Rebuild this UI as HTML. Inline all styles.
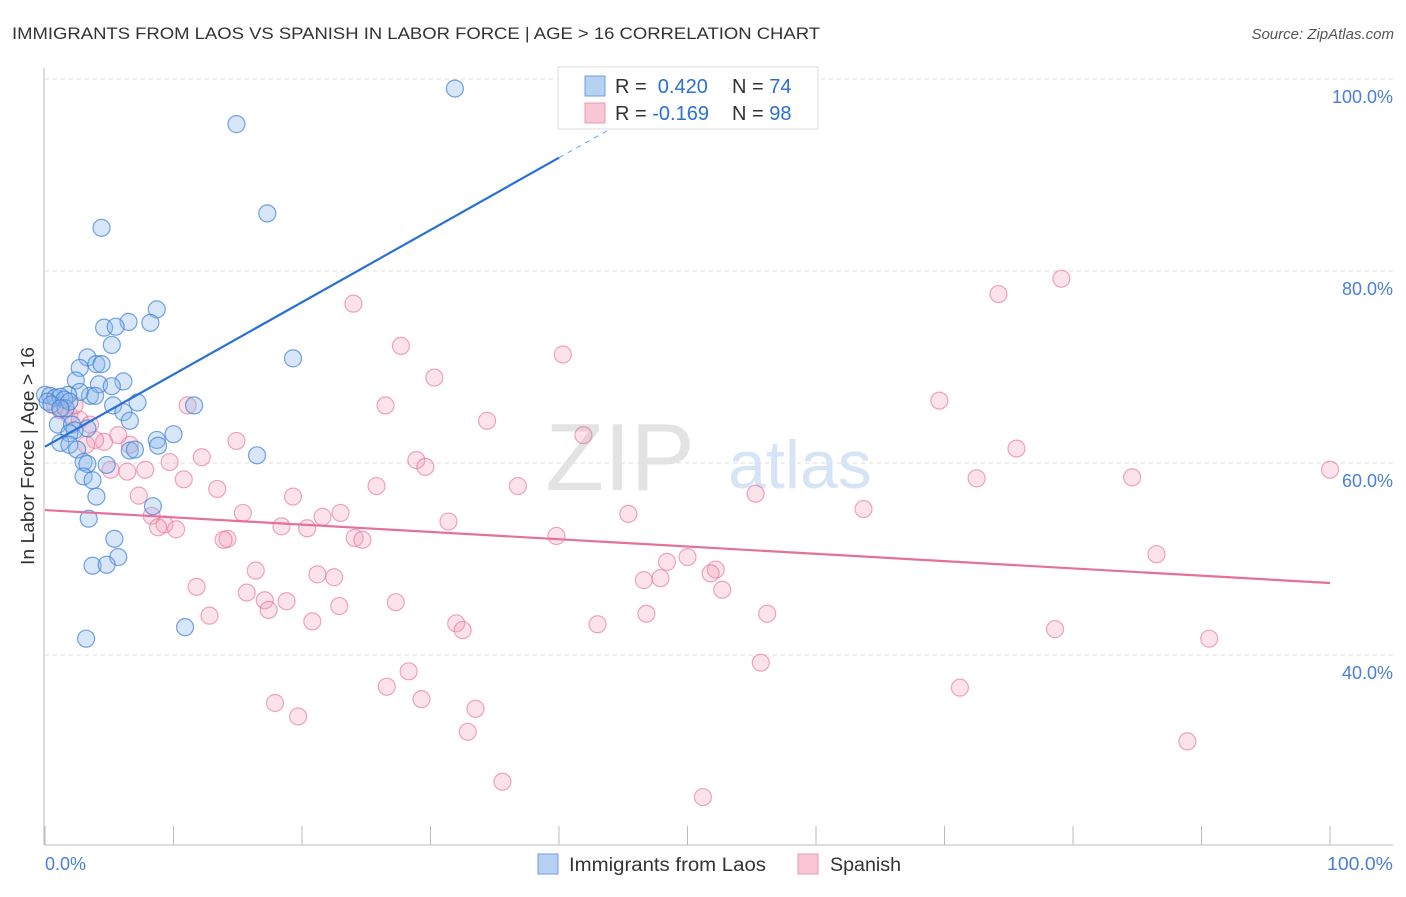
<!DOCTYPE html>
<html><head><meta charset="utf-8"><style>
body{margin:0;background:#fff;font-family:"Liberation Sans",sans-serif;}
svg text{font-family:"Liberation Sans",sans-serif;}
</style></head><body>
<svg width="1406" height="892">
<text x="12" y="39" font-size="17" fill="#333" textLength="808" lengthAdjust="spacingAndGlyphs">IMMIGRANTS FROM LAOS VS SPANISH IN LABOR FORCE | AGE &gt; 16 CORRELATION CHART</text>
<text x="1394" y="39" font-size="15" fill="#555" font-style="italic" text-anchor="end">Source: ZipAtlas.com</text>
<g id="grid"></g>
<text x="620" y="490" font-size="96" fill="#e3e3e3" font-family="Liberation Serif" text-anchor="middle">ZIP</text>
<text x="800" y="488" font-size="68" fill="#d6e4f5" text-anchor="middle">atlas</text>
<g id="pts"></g>
<g id="lines"></g>
<text transform="translate(34,456) rotate(-90)" font-size="18" fill="#333" text-anchor="middle" textLength="218" lengthAdjust="spacingAndGlyphs">In Labor Force | Age &gt; 16</text>
<text x="45" y="870" font-size="18" fill="#4a7fd4">0.0%</text>
<text x="1393" y="870" font-size="18" fill="#4a7fd4" text-anchor="end" textLength="66" lengthAdjust="spacingAndGlyphs">100.0%</text>
<g>
<rect x="558" y="67" width="260" height="62" fill="#fff" stroke="#ddd"/>
<rect x="585" y="76" width="20" height="20" fill="#b7d1f3" stroke="#6d9ee0"/>
<rect x="585" y="103" width="20" height="20" fill="#f9c6d5" stroke="#ec9ab3"/>
<text x="615" y="93" font-size="20" fill="#333">R = <tspan fill="#2a6fd6">&#160;0.420</tspan><tspan x="732">N = </tspan><tspan fill="#2a6fd6">74</tspan></text>
<text x="615" y="120" font-size="20" fill="#333">R = <tspan fill="#2a6fd6">-0.169</tspan><tspan x="732">N = </tspan><tspan fill="#2a6fd6">98</tspan></text>
</g>
<g>
<rect x="538" y="854" width="20" height="20" fill="#b7d1f3" stroke="#6d9ee0"/>
<text x="569" y="871" font-size="19" fill="#333" textLength="197" lengthAdjust="spacingAndGlyphs">Immigrants from Laos</text>
<rect x="798" y="854" width="20" height="20" fill="#f9c6d5" stroke="#ec9ab3"/>
<text x="830" y="871" font-size="19" fill="#333" textLength="71" lengthAdjust="spacingAndGlyphs">Spanish</text>
</g>
</svg>
<script>
const yTicks=[100,80,60,40];
const yTickLabels=["100.0%","80.0%","60.0%","40.0%"];
const xTicks=[0,10,20,30,40,50,60,70,80,90,100];
const laosX=[31.9,14.9,17.3,4.4,8.7,6.5,8.2,4.6,5.5,5.2,3.3,19.3,2.7,4.0,4.4,6.1,2.4,4.2,5.2,3.5,3.9,2.7,1.8,0,0.4,0.8,1.2,1.5,0.2,0.5,7.2,11.6,5.3,6.1,6.6,1.0,3.3,2.1,2.3,1.9,8.7,10.0,8.8,1.2,1.9,2.5,6.6,7.0,16.5,3.0,3.3,4.8,3.0,3.7,4.0,8.4,3.4,5.4,5.7,3.7,4.8,10.9,3.2,1.6,1.9,1.2];
const laosY=[99.0,95.3,86.0,84.5,76.0,74.7,74.6,74.1,74.2,72.3,71.0,70.9,69.9,70.3,70.3,68.5,68.6,68.2,68.0,67.0,67.0,67.4,67.1,67.1,67.0,66.8,66.9,66.6,66.4,66.1,66.3,66.0,66.0,65.3,64.4,64.0,63.6,64.0,63.4,63.1,62.4,63.0,61.8,62.1,61.9,61.4,61.3,61.4,60.8,60.1,59.9,59.8,58.6,58.2,56.5,55.5,54.2,52.1,50.2,49.3,49.4,42.9,41.7,65.7,66.4,65.7];
const spanX=[79.1,74.2,24.0,27.7,40.3,30.3,26.5,11.1,69.6,34.4,41.9,75.6,14.9,6.6,4.6,5.7,3.9,3.2,12.2,9.7,28.9,29.6,7.8,6.4,5.1,10.8,25.8,36.8,72.5,84.6,100,13.4,7.3,19.3,55.3,15.4,23.0,21.6,45.4,63.7,8.3,31.4,9.3,8.8,10.2,18.4,20.4,39.8,14.2,13.9,24.1,24.7,86.5,50.0,48.4,16.4,21.2,22.5,52.2,51.8,46.6,47.9,11.8,15.7,17.1,18.8,17.4,22.9,27.3,52.7,46.8,56.2,12.8,20.8,32.0,32.5,43.0,78.6,90.6,55.7,28.3,26.6,71.2,17.9,29.3,33.5,19.7,32.9,88.9,35.6,51.2,1.2,1.9,2.7,0.8,2.3,3.5];
const spanY=[79.2,77.6,76.6,72.2,71.3,68.9,66.0,66.0,66.5,64.4,62.9,61.5,62.3,61.9,62.2,62.9,62.4,61.9,60.6,60.1,60.3,59.6,59.3,59.1,59.3,58.3,57.6,57.6,58.4,58.5,59.3,57.3,56.6,56.5,56.8,54.8,54.8,54.4,54.7,55.2,54.5,53.9,53.6,53.3,53.1,53.4,53.2,52.4,52.1,52.0,52.2,52.0,50.5,50.2,49.7,48.8,48.4,48.1,48.9,48.5,47.8,48.0,47.1,46.5,45.7,45.6,44.7,45.1,45.5,46.8,44.3,44.3,44.1,43.5,43.3,42.6,43.2,42.7,41.7,39.2,38.3,36.7,36.6,35.0,35.4,34.4,33.6,32.0,31.0,26.8,25.2,65.5,65.0,64.5,66.0,66.0,64.0];
const laosTrend=[[0,61.7],[40,91.8]];
const laosTrendExt=[[40,91.8],[46.4,96.6]];
const spanTrend=[[0,55.1],[100,47.5]];

const NS="http://www.w3.org/2000/svg";
const sx=v=>45+v*12.85;
const sy=v=>79+(100-v)*9.6;
function mk(tag,attrs,parent){const e=document.createElementNS(NS,tag);for(const k in attrs)e.setAttribute(k,attrs[k]);parent.appendChild(e);return e;}
const grid=document.getElementById('grid');
yTicks.forEach((t,i)=>{
 const l=mk('line',{x1:45,x2:1393,y1:sy(t),y2:sy(t),stroke:'#ddd','stroke-dasharray':'4,4'},grid);
 
 
 const tx=mk('text',{x:1393,y:sy(t)+24,'font-size':18,fill:'#4a7fd4','text-anchor':'end'},grid);
 tx.textContent=yTickLabels[i];
 
 
});
const ax=mk('line',{x1:44,x2:44,y1:68,y2:845,stroke:'#bbb'},grid);


const bx=mk('line',{x1:44,x2:1393,y1:845,y2:845,stroke:'#bbb'},grid);


xTicks.forEach(t=>{
 const l=mk('line',{x1:sx(t),x2:sx(t),y1:826,y2:845,stroke:'#bbb'},grid);
 
 
});
const pts=document.getElementById('pts');
spanX.forEach((x,i)=>{
 const c=mk('circle',{cx:sx(x),cy:sy(spanY[i]),r:8.5,fill:'rgba(244,160,187,0.3)',stroke:'rgba(228,110,148,0.6)','stroke-width':1.2},pts);
 
 
});
laosX.forEach((x,i)=>{
 const c=mk('circle',{cx:sx(x),cy:sy(laosY[i]),r:8.5,fill:'rgba(140,182,236,0.35)',stroke:'rgba(60,125,215,0.7)','stroke-width':1.2},pts);
 
 
});
const lines=document.getElementById('lines');
function ln(p,col,dash,name){
 const l=mk('line',{x1:sx(p[0][0]),y1:sy(p[0][1]),x2:sx(p[1][0]),y2:sy(p[1][1]),stroke:col,'stroke-width':dash?1:2.2},lines);
 if(dash)l.setAttribute('stroke-dasharray','5,5');
 
 
}
ln(spanTrend,'#e5709a',false,'spanish-trendline');
ln(laosTrend,'#2a6fd6',false,'laos-trendline');
ln(laosTrendExt,'#6d9ee0',true,'laos-trendline-extension');
</script>
</body></html>
